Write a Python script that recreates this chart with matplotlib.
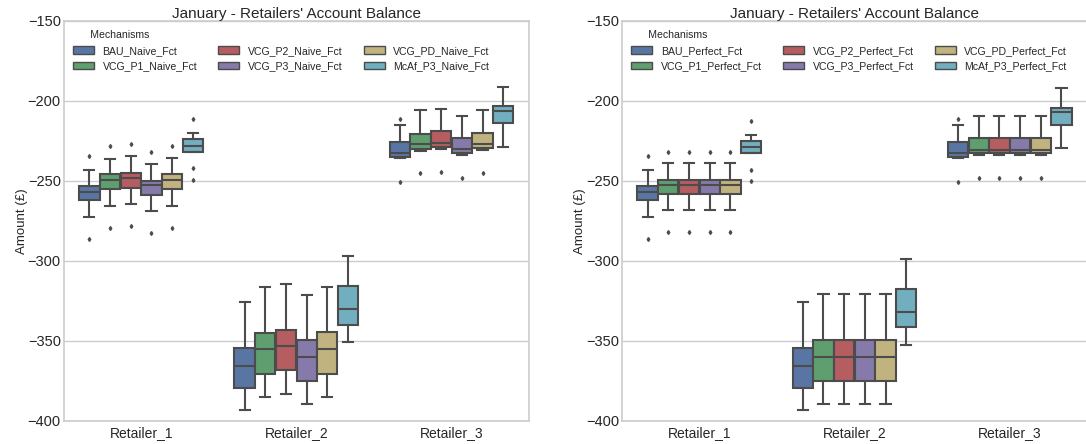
import colorsys
import matplotlib
matplotlib.use("Agg")
import matplotlib.pyplot as plt
from matplotlib.colors import to_rgb
from matplotlib.patches import Patch

plt.rcParams['font.family'] = ['Liberation Sans', 'DejaVu Sans']

retailers = ["Retailer_1", "Retailer_2", "Retailer_3"]
naive_labels = ["BAU_Naive_Fct", "VCG_P1_Naive_Fct", "VCG_P2_Naive_Fct",
                "VCG_P3_Naive_Fct", "VCG_PD_Naive_Fct", "McAf_P3_Naive_Fct"]
perfect_labels = ["BAU_Perfect_Fct", "VCG_P1_Perfect_Fct", "VCG_P2_Perfect_Fct",
                  "VCG_P3_Perfect_Fct", "VCG_PD_Perfect_Fct", "McAf_P3_Perfect_Fct"]
palette = ["#4C72B0", "#55A868", "#C44E52", "#8172B2", "#CCB974", "#64B5CD"]

# one row per retailer, one value per mechanism
naive_whishi = [[-243.1, -236.1, -234.2, -239.2, -235.9, -220.3],
                [-326.0, -316.6, -314.6, -321.4, -316.6, -297.3],
                [-215.1, -205.9, -204.9, -209.5, -205.9, -191.0]]
naive_q3 = [[-253.5, -245.8, -244.8, -250.0, -245.6, -224.0],
            [-354.7, -344.9, -343.0, -349.7, -344.5, -316.0],
            [-225.9, -220.5, -219.0, -223.2, -220.1, -203.2]]
naive_med = [[-257.1, -249.4, -248.3, -252.9, -249.4, -228.0],
             [-365.8, -355.1, -353.4, -360.4, -354.9, -330.4],
             [-232.3, -227.1, -226.1, -230.0, -226.9, -206.3]]
naive_q1 = [[-262.1, -255.4, -254.2, -258.9, -255.4, -231.7],
            [-379.3, -370.5, -368.6, -375.1, -370.5, -340.2],
            [-234.8, -229.8, -229.0, -232.5, -229.4, -214.0]]
naive_whislo = [[-272.9, -265.6, -264.3, -268.9, -265.6, -232.0],
                [-393.5, -384.9, -383.4, -389.7, -384.9, -351.0],
                [-235.9, -231.1, -229.8, -234.0, -230.9, -228.6]]
naive_fliers = [[[-234.2, -286.1], [-228.2, -279.4], [-226.9, -278.4],
                 [-231.7, -282.7], [-228.2, -279.4], [-211.5, -242.1, -249.6]],
                [[], [], [], [], [], []],
                [[-211.5, -251.0], [-245.2], [-244.2], [-248.3], [-245.2], []]]

perfect_whishi = [[-243.1, -239.0, -239.0, -239.0, -239.0, -221.3],
                  [-326.0, -321.0, -321.0, -321.0, -321.0, -298.8],
                  [-215.1, -209.5, -209.5, -209.5, -209.5, -191.8]]
perfect_q3 = [[-253.5, -249.4, -249.4, -249.4, -249.4, -225.3],
              [-354.7, -349.4, -349.4, -349.4, -349.4, -317.5],
              [-225.9, -223.2, -223.2, -223.2, -223.2, -204.3]]
perfect_med = [[-257.1, -252.5, -252.5, -252.5, -252.5, -228.6],
               [-365.8, -360.0, -360.0, -360.0, -360.0, -331.9],
               [-232.3, -230.5, -230.5, -230.5, -230.5, -207.0]]
perfect_q1 = [[-262.1, -258.5, -258.5, -258.5, -258.5, -232.3],
              [-379.3, -375.1, -375.1, -375.1, -375.1, -341.6],
              [-234.8, -232.7, -232.7, -232.7, -232.7, -215.1]]
perfect_whislo = [[-272.9, -268.5, -268.5, -268.5, -268.5, -232.7],
                  [-393.5, -389.3, -389.3, -389.3, -389.3, -352.5],
                  [-235.9, -233.8, -233.8, -233.8, -233.8, -229.2]]
perfect_fliers = [[[-234.2, -286.1], [-231.7, -282.3], [-231.7, -282.3],
                   [-231.7, -282.3], [-231.7, -282.3], [-212.6, -243.1, -250.4]],
                  [[], [], [], [], [], []],
                  [[-211.5, -251.0], [-248.3], [-248.3], [-248.3], [-248.3], []]]


def desat(c, prop=0.75):
    h, l, s = colorsys.rgb_to_hls(*to_rgb(c))
    return colorsys.hls_to_rgb(h, l, s * prop)


colors = [desat(c) for c in palette]
gray = "#4c4c4c"


def draw(ax, labels, whislo, q1, med, q3, whishi, fliers):
    n = len(labels)
    w = 0.8 / n
    for i in range(len(retailers)):
        stats = []
        pos = []
        for j in range(n):
            stats.append(dict(whislo=whislo[i][j], q1=q1[i][j], med=med[i][j],
                              q3=q3[i][j], whishi=whishi[i][j], fliers=fliers[i][j]))
            pos.append(i - 0.4 + w / 2 + j * w)
        bp = ax.bxp(stats, positions=pos, widths=w * 0.98, patch_artist=True,
                    manage_ticks=False,
                    boxprops=dict(edgecolor=gray, linewidth=1.5),
                    medianprops=dict(color=gray, linewidth=1.5),
                    whiskerprops=dict(color=gray, linewidth=1.5),
                    capprops=dict(color=gray, linewidth=1.5),
                    flierprops=dict(marker="d", markersize=2, markerfacecolor=gray,
                                    markeredgecolor=gray, linestyle="none"))
        for j, box in enumerate(bp["boxes"]):
            box.set_facecolor(colors[j])

    ax.set_xlim(-0.5, 2.5)
    ax.set_ylim(-400, -150)
    ax.set_xticks(range(len(retailers)))
    ax.set_xticklabels(retailers, fontsize=10, color="#262626")
    ax.set_yticks([-400, -350, -300, -250, -200, -150])
    ax.tick_params(axis="y", labelsize=10.5, labelcolor="#262626", length=0, pad=2)
    ax.tick_params(axis="x", length=0, pad=4)
    ax.yaxis.grid(True, color="#cccccc", linewidth=1)
    ax.xaxis.grid(False)
    ax.set_axisbelow(True)
    for sp in ax.spines.values():
        sp.set_color("#cccccc")
        sp.set_linewidth(1.2)
    ax.set_ylabel("Amount (£)", fontsize=9.5, color="#262626", labelpad=0)
    ax.set_title("January - Retailers' Account Balance", fontsize=11, color="#262626", pad=2)

    handles = [Patch(facecolor=colors[j], edgecolor=gray, linewidth=1.0, label=labels[j])
               for j in range(n)]
    leg = ax.legend(handles=handles, title="      Mechanisms", ncol=3, loc="upper left",
                    bbox_to_anchor=(0.0, 1.0), frameon=False, fontsize=7.6,
                    title_fontsize=7.6, handlelength=2.0, handleheight=0.7,
                    handletextpad=0.8, columnspacing=2.0, labelspacing=0.5,
                    alignment="left")
    for t in leg.get_texts():
        t.set_color("#262626")
    leg.get_title().set_color("#262626")


fig = plt.figure(figsize=(10.86, 4.44), dpi=100)
ax1 = fig.add_axes([0.0585, 0.0525, 0.4287, 0.9003])
ax2 = fig.add_axes([0.5725, 0.0525, 0.4287, 0.9003])

draw(ax1, naive_labels, naive_whislo, naive_q1, naive_med, naive_q3,
     naive_whishi, naive_fliers)
draw(ax2, perfect_labels, perfect_whislo, perfect_q1, perfect_med, perfect_q3,
     perfect_whishi, perfect_fliers)

fig.savefig("out.png", dpi=100)
